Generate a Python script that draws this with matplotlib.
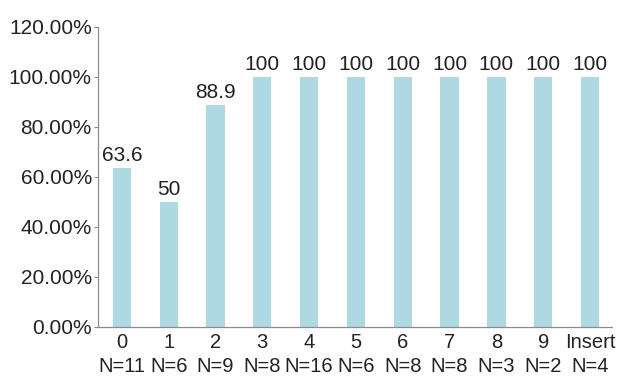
import matplotlib.pyplot as plt
from matplotlib.ticker import FuncFormatter

plt.rcParams['font.family'] = ['Liberation Sans', 'DejaVu Sans']

# categories and percentages
categories = ['0', '1', '2', '3', '4', '5', '6', '7', '8', '9', 'Insert']
counts = [11, 6, 9, 8, 16, 6, 8, 8, 3, 2, 4]
values = [63.6, 50, 88.9, 100, 100, 100, 100, 100, 100, 100, 100]
value_labels = ['63.6', '50', '88.9', '100', '100', '100', '100', '100', '100', '100', '100']

bar_color = '#aed9e2'
text_color = '#222222'
axis_color = '#8c8c8c'

fig = plt.figure(figsize=(6.22, 3.77), dpi=100)
ax = fig.add_axes([98/622, 1 - 327/377, (612-98)/622, 300/377])

x = range(len(categories))
bars = ax.bar(x, values, width=0.39, color=bar_color)

for b, lab in zip(bars, value_labels):
    ax.text(b.get_x() + b.get_width()/2, b.get_height() + 1.2, lab,
            ha='center', va='bottom', fontsize=15, color=text_color)

ax.set_xlim(-0.51, 10.47)
ax.set_ylim(0, 120)
ax.set_yticks(range(0, 121, 20))
ax.yaxis.set_major_formatter(FuncFormatter(lambda v, p: '%.2f%%' % v))
ax.set_xticks(list(x))
ax.set_xticklabels(['%s\nN=%d' % (c, n) for c, n in zip(categories, counts)],
                   linespacing=1.35)

ax.tick_params(axis='y', length=3, width=0.8, color=axis_color,
               labelsize=15, labelcolor=text_color, pad=1.5)
ax.tick_params(axis='x', length=0, labelsize=14.5, labelcolor=text_color, pad=4)

for s in ['top', 'right']:
    ax.spines[s].set_visible(False)
for s in ['left', 'bottom']:
    ax.spines[s].set_color(axis_color)
    ax.spines[s].set_linewidth(0.9)

fig.savefig('out.png', dpi=100)
